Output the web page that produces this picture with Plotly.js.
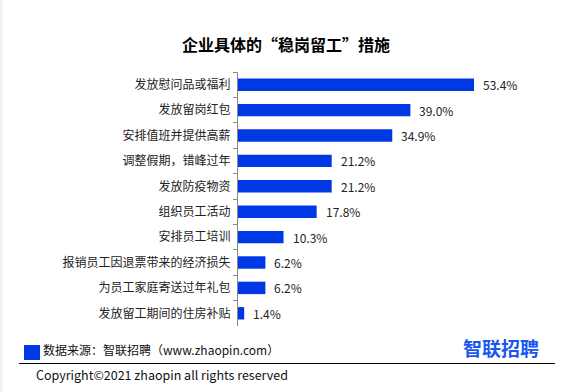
<!DOCTYPE html>
<html>
<head>
<meta charset="utf-8">
<script src="https://cdn.plot.ly/plotly-3.0.1.min.js"></script>
<style>html,body{margin:0;padding:0;background:#fff;}#chart{width:572px;height:392px;}</style>
</head>
<body>
<div id="chart"></div>
<script>
// Data
const categories = [
  "发放慰问品或福利",
  "发放留岗红包",
  "安排值班并提供高薪",
  "调整假期，错峰过年",
  "发放防疫物资",
  "组织员工活动",
  "安排员工培训",
  "报销员工因退票带来的经济损失",
  "为员工家庭寄送过年礼包",
  "发放留工期间的住房补贴"
];
const values = [53.4, 39.0, 34.9, 21.2, 21.2, 17.8, 10.3, 6.2, 6.2, 1.4];
const valueLabels = ["53.4%", "39.0%", "34.9%", "21.2%", "21.2%", "17.8%", "10.3%", "6.2%", "6.2%", "1.4%"];
const titleText = "企业具体的“稳岗留工”措施";
const sourceText = "数据来源：智联招聘（www.zhaopin.com）";
const copyrightText = "Copyright©2021 zhaopin all rights reserved";
const logoText = "智联招聘";

// Geometry
const W = 572, H = 392;
const M = {l: 238, r: 34, t: 72, b: 66};
const PW = W - M.l - M.r, PH = H - M.t - M.b;
const px = x => (x - M.l) / PW;
const py = y => (H - M.b - y) / PH;

const CJK = "'Noto Sans CJK SC', 'Noto Sans', sans-serif";
const BLUE = "#0038e6";

const trace = {
  type: "bar",
  orientation: "h",
  x: values,
  y: categories,
  width: 0.49,
  marker: {color: BLUE},
  hoverinfo: "skip"
};

const annotations = values.map((v, i) => ({
  x: v, y: categories[i], xref: "x", yref: "y",
  text: valueLabels[i], showarrow: false,
  xanchor: "left", yanchor: "middle", xshift: 7,
  font: {family: CJK, size: 12, color: "#222"}
}));

annotations.push(
  {x: px(41), y: py(349), xref: "paper", yref: "paper", text: sourceText, showarrow: false,
   xanchor: "left", yanchor: "middle", font: {family: CJK, size: 12, color: "#111"}},
  {x: px(34), y: py(374.5), xref: "paper", yref: "paper", text: copyrightText, showarrow: false,
   xanchor: "left", yanchor: "middle", font: {family: CJK, size: 12.5, color: "#111"}},
  {x: px(541), y: py(347.5), xref: "paper", yref: "paper", text: "<b>" + logoText + "</b>", showarrow: false,
   xanchor: "right", yanchor: "middle", font: {family: CJK, size: 19, color: "#1a57f0"}}
);

const shapes = [
  {type: "rect", xref: "paper", yref: "paper", x0: px(0), x1: px(3), y0: py(0), y1: py(392),
   fillcolor: "#f3f3f3", line: {width: 0}, layer: "below"},
  {type: "rect", xref: "paper", yref: "paper", x0: px(24), x1: px(40), y0: py(360), y1: py(345),
   fillcolor: BLUE, line: {width: 0}},
  {type: "line", xref: "paper", yref: "paper", x0: px(19), x1: px(555), y0: py(363.5), y1: py(363.5),
   line: {color: "#000", width: 1}}
];

const layout = {
  width: W, height: H,
  margin: M,
  paper_bgcolor: "#fff", plot_bgcolor: "#fff",
  showlegend: false,
  bargap: 0.5,
  title: {text: "<b>" + titleText + "</b>", x: 286 / W, xref: "container", xanchor: "center",
          y: 1 - 45.5 / H, yref: "container", yanchor: "middle",
          font: {family: CJK, size: 16, color: "#000"}},
  xaxis: {range: [0, PW / 4.42], visible: false, fixedrange: true},
  yaxis: {
    type: "category", autorange: "reversed",
    showline: true, linecolor: "#8a8a8a", linewidth: 1,
    ticks: "outside", tickson: "boundaries", ticklen: 4, tickcolor: "#8a8a8a",
    ticklabelstandoff: 4,
    tickfont: {family: CJK, size: 12, color: "#222"},
    showgrid: false, zeroline: false, fixedrange: true
  },
  annotations: annotations,
  shapes: shapes
};

Plotly.newPlot("chart", [trace], layout, {staticPlot: true, displayModeBar: false});
</script>
</body>
</html>
